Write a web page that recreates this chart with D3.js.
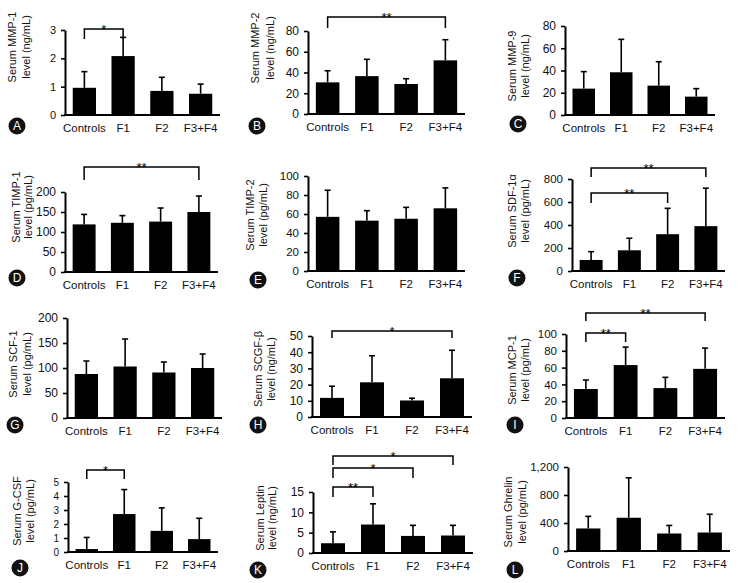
<!DOCTYPE html>
<html>
<head>
<meta charset="utf-8">
<script src="https://cdn.jsdelivr.net/npm/d3@7"></script>
<style>
  body { margin: 0; background: #fff; }
  svg { display: block; font-family: "Liberation Sans", Arial, sans-serif; }
</style>
</head>
<body>
<svg id="chart" width="746" height="583"></svg>
<script>
// groups on the x axis
const categories = ["Controls", "F1", "F2", "F3+F4"];

// mean and top of the error whisker
const mmp1Mean = [0.96, 2.08, 0.85, 0.75];
const mmp1Top  = [1.53, 2.74, 1.33, 1.09];
const mmp2Mean = [30.5, 36.5, 28.9, 51.7];
const mmp2Top  = [41.7, 52.7, 34, 71.6];
const mmp9Mean = [23.7, 38.4, 26.4, 16.5];
const mmp9Top  = [39, 68, 47.9, 23.7];
const timp1Mean = [119, 123, 126, 150];
const timp1Top  = [144, 141, 160, 190];
const timp2Mean = [57, 53, 55, 66];
const timp2Top  = [85, 63.5, 67, 87.5];
const sdfMean = [96, 180, 320, 390];
const sdfTop  = [168, 285, 545, 720];
const scfMean = [88, 103, 91, 100];
const scfTop  = [114, 158, 112, 128];
const scgfMean = [11.8, 21.4, 10.2, 23.9];
const scgfTop  = [19, 37.8, 11.6, 41.2];
const mcpMean = [34.5, 63, 35.6, 58.5];
const mcpTop  = [45.2, 84.4, 48.4, 83.2];
const gcsfMean = [0.21, 2.71, 1.51, 0.92];
const gcsfTop  = [1.04, 4.46, 3.15, 2.41];
const leptinMean = [2.4, 7, 4.2, 4.3];
const leptinTop  = [5.2, 12.1, 6.8, 6.8];
const ghrelinMean = [322, 475, 250, 264];
const ghrelinTop  = [495, 1045, 365, 525];

// y ticks
const mmp1Ticks = [0, 1, 2, 3];
const by20To80 = [0, 20, 40, 60, 80];
const by20To100 = [0, 20, 40, 60, 80, 100];
const by50To200 = [0, 50, 100, 150, 200];
const sdfTicks = [0, 200, 400, 600, 800];
const scgfTicks = [0, 10, 20, 30, 40, 50];
const gcsfTicks = [0, 1, 2, 3, 4, 5];
const leptinTicks = [0, 5, 10, 15];
const ghrelinTicks = [0, 400, 800, 1200];

// significance: [from, to, mark]
const mmp1Sig = [[0, 1, "*"]];
const mmp2Sig = [[0, 3, "**"]];
const timp1Sig = [[0, 3, "**"]];
const sdfSig = [[0, 3, "**"], [0, 2, "**"]];
const scgfSig = [[0, 3, "*"]];
const mcpSig = [[0, 3, "**"], [0, 1, "**"]];
const gcsfSig = [[0, 1, "*"]];
const leptinSig = [[0, 3, "*"], [0, 2, "*"], [0, 1, "**"]];

const panels = [
  { tag: "A", title: ["Serum MMP-1", "level (ng/mL)"], mean: mmp1Mean, top: mmp1Top, ticks: mmp1Ticks, sig: mmp1Sig, tf: 11,
    x0: 65, x1: 220, yTop: 30, yBot: 115, lab: [12, 26, 47], circ: [17, 126], sigY: [[29, 10]] },
  { tag: "B", title: ["Serum MMP-2", "level (ng/mL)"], mean: mmp2Mean, top: mmp2Top, ticks: by20To80, sig: mmp2Sig, tf: 12,
    x0: 308, x1: 465, yTop: 31, yBot: 114, lab: [255, 270, 48], circ: [257, 126], sigY: [[17, 11]] },
  { tag: "C", title: ["Serum MMP-9", "level (ng/mL)"], mean: mmp9Mean, top: mmp9Top, ticks: by20To80, sig: [], tf: 12,
    x0: 565, x1: 715, yTop: 26, yBot: 115, lab: [512, 525, 66], circ: [518, 124], sigY: [] },
  { tag: "D", title: ["Serum TIMP-1", "level (pg/mL)"], mean: timp1Mean, top: timp1Top, ticks: by50To200, sig: timp1Sig, tf: 12,
    x0: 65, x1: 218, yTop: 192, yBot: 272, lab: [16, 28, 207], circ: [17, 278], sigY: [[167, 13]] },
  { tag: "E", title: ["Serum TIMP-2", "level (pg/mL)"], mean: timp2Mean, top: timp2Top, ticks: by20To100, sig: [], tf: 11.5,
    x0: 308, x1: 465, yTop: 176, yBot: 271, lab: [250, 263, 215], circ: [258, 280], sigY: [] },
  { tag: "F", title: ["Serum SDF-1α", "level (pg/mL)"], mean: sdfMean, top: sdfTop, ticks: sdfTicks, sig: sdfSig, tf: 11.5,
    x0: 572, x1: 725, yTop: 179, yBot: 271, lab: [512, 525, 211], circ: [517, 278], sigY: [[168, 9], [193, 10]] },
  { tag: "G", title: ["Serum SCF-1", "level (pg/mL)"], mean: scfMean, top: scfTop, ticks: by50To200, sig: [], tf: 12,
    x0: 67, x1: 222, yTop: 318, yBot: 418, lab: [13, 27, 364], circ: [15, 425], sigY: [] },
  { tag: "H", title: ["Serum SCGF-β", "level (ng/mL)"], mean: scgfMean, top: scgfTop, ticks: scgfTicks, sig: scgfSig, tf: 12,
    x0: 312, x1: 472, yTop: 336, yBot: 417, lab: [258, 271, 369], circ: [258, 425], sigY: [[331, 7]] },
  { tag: "I", title: ["Serum MCP-1", "level (pg/mL)"], mean: mcpMean, top: mcpTop, ticks: by20To100, sig: mcpSig, tf: 11.5,
    x0: 566, x1: 725, yTop: 334, yBot: 418, lab: [512, 525, 370], circ: [515, 425], sigY: [[313, 8], [333, 9]] },
  { tag: "J", title: ["Serum G-CSF", "level (pg/mL)"], mean: gcsfMean, top: gcsfTop, ticks: gcsfTicks, sig: gcsfSig, tf: 10,
    x0: 68, x1: 218, yTop: 482, yBot: 552, lab: [17, 30, 511], circ: [20, 568], sigY: [[470, 9]] },
  { tag: "K", title: ["Serum Leptin", "level (ng/mL)"], mean: leptinMean, top: leptinTop, ticks: leptinTicks, sig: leptinSig, tf: 12,
    x0: 313, x1: 473, yTop: 492, yBot: 553, lab: [260, 272, 518], circ: [258, 570], sigY: [[456, 9], [468, 10], [487, 10]] },
  { tag: "L", title: ["Serum Ghrelin", "level (pg/mL)"], mean: ghrelinMean, top: ghrelinTop, ticks: ghrelinTicks, sig: [], tf: 11.5,
    x0: 568, x1: 730, yTop: 467, yBot: 551, lab: [508, 522, 512], circ: [515, 570], sigY: [] }
];

const svg = d3.select("#chart");

function drawPanel(p) {
  const g = svg.append("g");
  const x = d3.scaleBand().domain(categories).range([p.x0, p.x1]).paddingInner(0.4).paddingOuter(0.2);
  const ymax = p.ticks[p.ticks.length - 1];
  const y = d3.scaleLinear().domain([0, ymax]).range([p.yBot, p.yTop]);

  // bars
  g.selectAll("rect.bar")
    .data(p.mean)
    .enter().append("rect")
    .attr("x", (d, i) => x(categories[i]))
    .attr("width", x.bandwidth())
    .attr("y", d => y(d))
    .attr("height", d => y(0) - y(d))
    .attr("fill", "#000");

  // upper whiskers
  const cx = i => x(categories[i]) + x.bandwidth() / 2;
  p.top.forEach((t, i) => {
    g.append("line").attr("x1", cx(i)).attr("x2", cx(i))
      .attr("y1", y(p.mean[i])).attr("y2", y(t))
      .attr("stroke", "#000").attr("stroke-width", 1.6);
    g.append("line").attr("x1", cx(i) - 3).attr("x2", cx(i) + 3)
      .attr("y1", y(t)).attr("y2", y(t))
      .attr("stroke", "#000").attr("stroke-width", 1.6);
  });

  // y axis
  const fmt = d3.format(",");
  const ax = g.append("g")
    .attr("transform", `translate(${p.x0},0)`)
    .call(d3.axisLeft(y).tickValues(p.ticks).tickFormat(fmt).tickSize(4).tickSizeOuter(0).tickPadding(5));
  ax.select(".domain").attr("stroke-width", 2);
  ax.selectAll(".tick line").attr("stroke-width", 1.6);
  ax.selectAll(".tick text").attr("font-size", p.tf).attr("font-family", "Liberation Sans, Arial, sans-serif").attr("fill", "#111");

  // x axis line
  g.append("line").attr("x1", p.x0 - 1).attr("x2", p.x1)
    .attr("y1", p.yBot).attr("y2", p.yBot)
    .attr("stroke", "#000").attr("stroke-width", 2);

  // category labels
  g.selectAll("text.cat")
    .data(categories)
    .enter().append("text")
    .attr("x", d => x(d) + x.bandwidth() / 2)
    .attr("y", p.yBot + 17)
    .attr("text-anchor", "middle")
    .attr("font-size", 11.5)
    .attr("fill", "#111")
    .text(d => d);

  // y title, two lines
  p.title.forEach((t, i) => {
    g.append("text")
      .attr("transform", `translate(${p.lab[i]},${p.lab[2]}) rotate(-90)`)
      .attr("dy", "0.35em")
      .attr("text-anchor", "middle")
      .attr("font-size", 11)
      .attr("fill", "#111")
      .text(t);
  });

  // significance brackets
  p.sig.forEach((s, k) => {
    const [by, drop] = p.sigY[k];
    const xa = cx(s[0]), xb = cx(s[1]);
    g.append("path")
      .attr("d", `M${xa},${by + drop}V${by}H${xb}V${by + drop}`)
      .attr("fill", "none").attr("stroke", "#000").attr("stroke-width", 1.5);
    g.append("text")
      .attr("x", (xa + xb) / 2).attr("y", by + 5)
      .attr("text-anchor", "middle").attr("font-size", 13)
      .text(s[2]);
  });

  // panel letter
  g.append("circle").attr("cx", p.circ[0]).attr("cy", p.circ[1]).attr("r", 8.5).attr("fill", "#111");
  g.append("text").attr("x", p.circ[0]).attr("y", p.circ[1]).attr("dy", "0.36em")
    .attr("text-anchor", "middle").attr("font-size", 12).attr("fill", "#fff")
    .text(p.tag);
}

panels.forEach(drawPanel);
</script>
</body>
</html>
